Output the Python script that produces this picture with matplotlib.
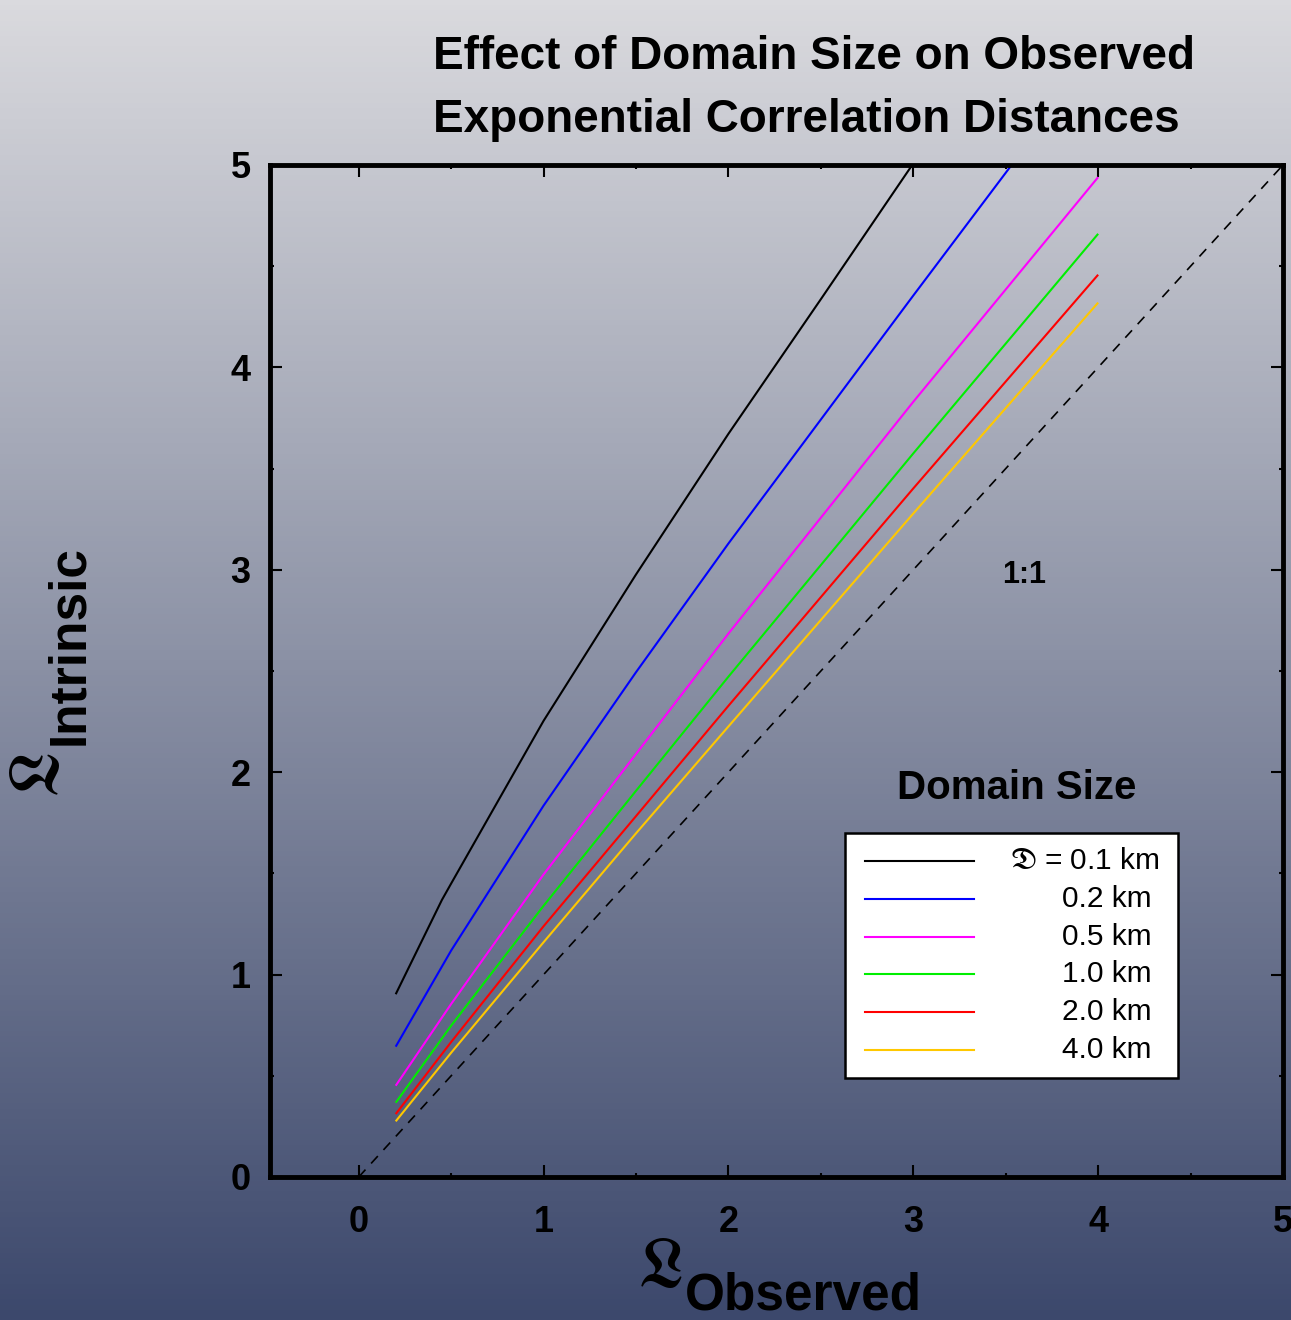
import numpy as np
import matplotlib
matplotlib.use("Agg")
import matplotlib.pyplot as plt
from matplotlib.patches import Rectangle

plt.rcParams["font.family"] = ["Liberation Sans", "DejaVu Sans"]
plt.rcParams["mathtext.fontset"] = "stix"

# Observed vs intrinsic correlation distance, one curve per domain size
domain_labels = [r"$\mathfrak{D}$ = 0.1 km", "0.2 km", "0.5 km", "1.0 km", "2.0 km", "4.0 km"]
colors = ["#000000", "#0000ff", "#ff00ff", "#00ee00", "#ff0000", "#ffc800"]

x_black = [0.2, 0.45, 0.5, 1.0, 1.5, 2.0, 2.5, 3.0]
y_black = [0.903, 1.369, 1.45, 2.254, 2.977, 3.672, 4.337, 5.008]

x_blue = [0.2, 0.5, 1.0, 1.5, 2.0, 3.0, 3.54]
y_blue = [0.644, 1.119, 1.835, 2.494, 3.130, 4.355, 5.01]

x_std = [0.2, 0.5, 1.0, 1.5, 2.0, 3.0, 4.0]
y_magenta = [0.451, 0.855, 1.495, 2.090, 2.685, 3.830, 4.94]
y_green = [0.367, 0.748, 1.340, 1.908, 2.472, 3.575, 4.66]
y_red = [0.311, 0.667, 1.239, 1.783, 2.328, 3.402, 4.458]
y_orange = [0.275, 0.614, 1.160, 1.698, 2.226, 3.278, 4.32]

series_x = [x_black, x_blue, x_std, x_std, x_std, x_std]
series_y = [y_black, y_blue, y_magenta, y_green, y_red, y_orange]

ticks = [0, 1, 2, 3, 4, 5]

fig = plt.figure(figsize=(12.91, 13.2), dpi=100)

# background gradient, light grey at the top to slate blue at the bottom
bg = fig.add_axes([0, 0, 1, 1], zorder=-10)
top = np.array([218, 218, 222]) / 255
bot = np.array([60, 72, 108]) / 255
t = np.linspace(0, 1, 256)[:, None]
grad = (top * (1 - t) + bot * t)[:, None, :]
bg.imshow(grad, aspect="auto", extent=[0, 1, 0, 1], origin="upper")
bg.axis("off")

ax = fig.add_axes([270 / 1291, (1320 - 1177) / 1320, 1013 / 1291, 1012 / 1320])
ax.set_facecolor("none")

for xs, ys, c in zip(series_x, series_y, colors):
    ax.plot(xs, ys, color=c, lw=1.5, solid_capstyle="butt", solid_joinstyle="round")

ax.plot([0, 5], [0, 5], color="k", lw=1.2, ls="--", dashes=(6, 5))

ax.set_xlim(-0.48, 5)
ax.set_ylim(0, 5)
ax.set_xticks(ticks)
ax.set_yticks(ticks)
ax.set_xticks(np.arange(0, 5.01, 0.5), minor=True)
ax.set_yticks(np.arange(0, 5.01, 0.5), minor=True)

for s in ax.spines.values():
    s.set_linewidth(3.5)

ax.tick_params(which="both", direction="in", top=True, right=True, width=1.5)
ax.tick_params(which="major", length=8.5)
ax.tick_params(which="minor", length=3)
ax.tick_params(axis="x", which="major", pad=20)
ax.tick_params(axis="y", which="major", pad=14)
for lab in ax.get_xticklabels() + ax.get_yticklabels():
    lab.set_fontfamily(["Liberation Sans Narrow", "Liberation Sans"])
    lab.set_fontweight("bold")
    lab.set_fontsize(26)

ax.text(3.6, 2.975, "1:1", fontsize=22, fontweight="bold", ha="center", va="center")
ax.text(3.56, 1.92, "Domain Size", fontsize=29, fontweight="bold", ha="center", va="center")

# legend box
ax.add_patch(Rectangle((0.5676, 0.0978), 0.3287, 0.2422, transform=ax.transAxes,
                       facecolor="white", edgecolor="black", lw=1.8, zorder=5))
row_y = [0.3123, 0.2747, 0.2372, 0.2006, 0.1630, 0.1255]
for i, (lab, c) in enumerate(zip(domain_labels, colors)):
    ax.plot([0.5874, 0.6950], [row_y[i], row_y[i]], color=c, lw=1.5,
            transform=ax.transAxes, zorder=6)
    tx = 0.7305 if i == 0 else 0.7818
    ax.text(tx, row_y[i], lab, fontsize=21.5, ha="left", va="center",
            transform=ax.transAxes, zorder=6)

# title
fig.text(433 / 1291, 1 - 57 / 1320, "Effect of Domain Size on Observed",
         fontsize=33, fontweight="bold", ha="left", va="center")
fig.text(433 / 1291, 1 - 120 / 1320, "Exponential Correlation Distances",
         fontsize=33, fontweight="bold", ha="left", va="center")

# axis labels
fig.text(660 / 1291, 1 - 1268 / 1320, r"$\mathfrak{L}$", fontsize=50, ha="center", va="center")
fig.text(685 / 1291, 1 - 1309 / 1320, "Observed", fontsize=37, fontweight="bold",
         ha="left", va="baseline")
fig.text(40 / 1291, 1 - 775 / 1320, r"$\mathfrak{L}$", fontsize=50, ha="center", va="center",
         rotation=90)
fig.text(70 / 1291, 1 - 645 / 1320, "Intrinsic", fontsize=37, fontweight="bold",
         ha="center", va="center", rotation=90)

fig.savefig("out.png", dpi=100)
